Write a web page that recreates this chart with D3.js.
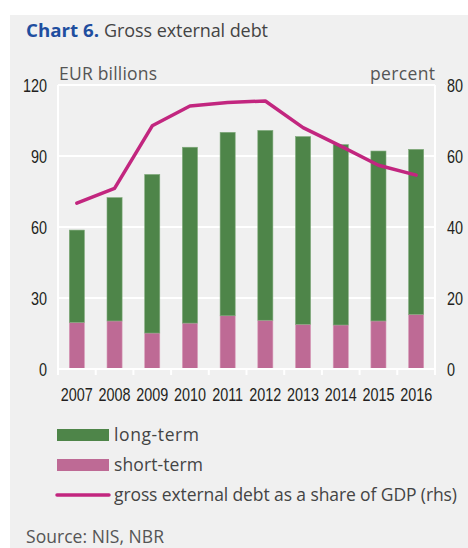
<!DOCTYPE html>
<html><head><meta charset="utf-8">
<script src="https://cdn.jsdelivr.net/npm/d3@7"></script>
<style>
html,body{margin:0;padding:0;background:#fff;}
svg{display:block;}
</style></head>
<body>
<svg id="c" width="468" height="548"></svg>
<script>
const years = ["2007","2008","2009","2010","2011","2012","2013","2014","2015","2016"];
const shortTerm = [19.7,20.3,15.2,19.4,22.5,20.6,18.9,18.6,20.3,23.1];
const longTerm = [39.0,52.1,67.0,74.3,77.5,80.2,79.3,76.2,71.8,69.7];
const debtToGDP = [46.7,50.9,68.5,74.1,75.1,75.5,68.0,62.8,57.4,54.6];
const leftTicks = [0,30,60,90,120];
const rightTicks = [0,20,40,60,80];

const condensed = "'Liberation Sans','Arial',sans-serif";
const regular = "'Open Sans','Noto Sans',sans-serif";

const svg = d3.select("#c");
svg.append("rect").attr("x",10).attr("y",15).attr("width",458).attr("height",533).attr("fill","#f0f0f0");

const L=58, R=435, T=85, B=369;
const x = d3.scaleBand().domain(years).range([L,R]).paddingInner(0.6).paddingOuter(0.3);
const xb = d3.scaleBand().domain(years).range([L,R]);
const yL = d3.scaleLinear().domain([0,120]).range([B,T]);
const yR = d3.scaleLinear().domain([0,80]).range([B,T]);

function txt(sel, s, opts){
  const e = sel.append("text").attr("x",opts.x).attr("y",opts.y)
    .attr("font-family",opts.font||regular).attr("font-size",opts.size||17.5)
    .attr("fill",opts.fill||"#444").text(s);
  if(opts.anchor) e.attr("text-anchor",opts.anchor);
  if(opts.len){ e.attr("textLength",opts.len).attr("lengthAdjust",opts.adj||"spacingAndGlyphs"); }
  return e;
}
// condensed number label via horizontal scale
function num(sel, s, cx, cy, anchor){
  return sel.append("text").attr("transform",`translate(${cx},${cy}) scale(0.8,1)`)
    .attr("text-anchor",anchor).attr("font-family",condensed).attr("font-size",18)
    .attr("fill","#231f20").text(s);
}

// grid
const g = svg.append("g");
g.selectAll("line.grid").data(leftTicks.slice(1)).join("line")
  .attr("x1",L).attr("x2",R).attr("y1",d=>yL(d)).attr("y2",d=>yL(d))
  .attr("stroke","#fff").attr("stroke-width",2);
g.append("line").attr("x1",L).attr("x2",L).attr("y1",T).attr("y2",B+6).attr("stroke","#fff").attr("stroke-width",2);
g.append("line").attr("x1",R).attr("x2",R).attr("y1",T).attr("y2",B+6).attr("stroke","#fff").attr("stroke-width",2);

// bars
const bars = svg.append("g");
years.forEach((yr,i)=>{
  bars.append("rect").attr("x",x(yr)).attr("width",x.bandwidth())
    .attr("y",yL(shortTerm[i])).attr("height",yL(0)-yL(shortTerm[i]))
    .attr("fill","#be6a95").attr("stroke","#d79ab8").attr("stroke-width",0.6);
  bars.append("rect").attr("x",x(yr)).attr("width",x.bandwidth())
    .attr("y",yL(shortTerm[i]+longTerm[i])).attr("height",yL(shortTerm[i])-yL(shortTerm[i]+longTerm[i]))
    .attr("fill","#4e8549").attr("stroke","#7fa97a").attr("stroke-width",0.6);
});

// x axis
const xa = svg.append("g");
xa.append("line").attr("x1",L).attr("x2",R).attr("y1",B).attr("y2",B).attr("stroke","#fff").attr("stroke-width",2);
xa.selectAll("line.tk").data(years.slice(1)).join("line")
  .attr("x1",d=>xb(d)).attr("x2",d=>xb(d)).attr("y1",B).attr("y2",B+6).attr("stroke","#fff").attr("stroke-width",2);
years.forEach(yr=>{
  num(xa, yr, xb(yr)+xb.bandwidth()/2, 401, "middle");
});

// line
const line = d3.line().x((d,i)=>x(years[i])+x.bandwidth()/2).y(d=>yR(d));
svg.append("path").datum(debtToGDP).attr("d",line).attr("fill","none")
  .attr("stroke","#c2267f").attr("stroke-width",3.5).attr("stroke-linejoin","round").attr("stroke-linecap","round");

// y labels
const yl = svg.append("g");
leftTicks.forEach(v=>{ num(yl, String(v), 47, yL(v)+6.5, "end"); });
rightTicks.forEach(v=>{ num(yl, String(v), 447, yR(v)+6.5, "start"); });

txt(svg, "EUR billions", {x:59, y:80, fill:"#555", len:98, adj:"spacing"});
txt(svg, "percent", {x:435, y:80, anchor:"end", fill:"#555", len:65, adj:"spacing"});

// title
const t = svg.append("text").attr("x",26).attr("y",37).attr("font-family",regular).attr("font-size",18);
t.append("tspan").attr("font-weight","bold").attr("fill","#1f4e9f").attr("textLength",73).attr("lengthAdjust","spacingAndGlyphs").text("Chart 6.");
t.append("tspan").attr("x",104).attr("fill","#444").attr("textLength",164).attr("lengthAdjust","spacing").text("Gross external debt");

// legend
const leg = svg.append("g");
leg.append("rect").attr("x",57).attr("y",429).attr("width",52).attr("height",12).attr("fill","#4e8549");
txt(leg, "long-term", {x:114, y:441, len:85, adj:"spacing"});
leg.append("rect").attr("x",57).attr("y",459).attr("width",52).attr("height",12).attr("fill","#be6a95");
txt(leg, "short-term", {x:114, y:471, len:89, adj:"spacing"});
leg.append("line").attr("x1",57).attr("x2",109).attr("y1",495).attr("y2",495).attr("stroke","#c2267f").attr("stroke-width",3.5).attr("stroke-linecap","round");
txt(leg, "gross external debt as a share of GDP (rhs)", {x:114, y:501, len:343, adj:"spacing"});

txt(svg, "Source: NIS, NBR", {x:26, y:543, fill:"#555", len:138, adj:"spacing"});
</script>
</body></html>
